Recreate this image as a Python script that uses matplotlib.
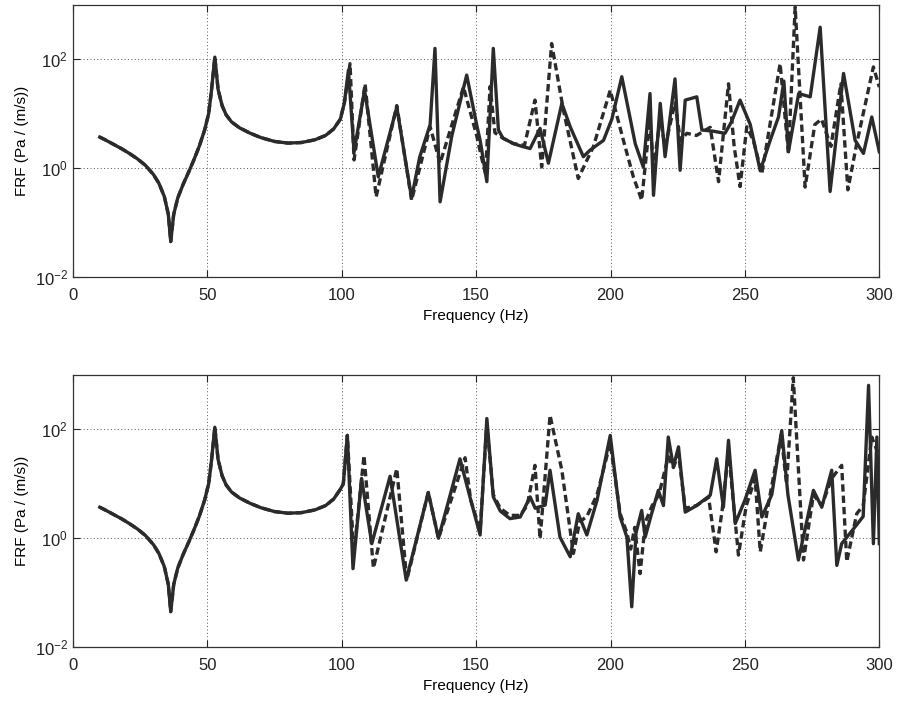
import numpy as np
import matplotlib
matplotlib.use('Agg')
import matplotlib.pyplot as plt

plt.rcParams['font.family'] = ['Liberation Sans', 'DejaVu Sans']

# below 100 Hz both models agree (log10 of FRF)
LOW_F = [10, 12, 15, 18, 21, 24, 27, 30, 32, 34, 35.5, 36.4, 37.5, 39, 41, 43, 45, 47,
         49, 50.5, 51.5, 52.8, 54, 55.5, 57, 59, 62, 66, 70, 75, 80, 85, 90, 94, 97, 99.5]
LOW_V = [0.57, 0.52, 0.44, 0.36, 0.27, 0.17, 0.05, -0.12, -0.28, -0.52, -0.85, -1.35,
         -0.85, -0.55, -0.30, -0.08, 0.15, 0.40, 0.70, 1.00, 1.40, 2.04, 1.45, 1.15, 0.98,
         0.85, 0.74, 0.64, 0.56, 0.49, 0.46, 0.47, 0.52, 0.60, 0.72, 0.90]

# top figure, solid
TOP_SOLID_F = [101, 102.5, 104.6, 108.5, 113.6, 120.5, 126, 129, 132.9, 134.7, 136.6, 141,
               146.5, 150.2, 151.5, 154, 156.4, 158.3, 160, 163.9, 167, 170.1, 173.8, 176.9,
               181.9, 185, 189.9, 192.4, 197.4, 200.5, 204.2, 209.2, 212.2, 214.7, 216, 218.5,
               220.3, 224, 225.9, 227.8, 232.1, 234, 238, 242.6, 245, 248.2, 252, 255.7, 259.4,
               262.5, 264.5, 266.2, 270, 274.3, 278, 281.7, 286.7, 291, 294.1, 297.2, 300]
TOP_SOLID_V = [1.20, 1.80, 0.30, 1.43, -0.16, 1.12, -0.55, 0.20, 0.80, 2.20, -0.62, 0.60,
               1.71, 0.80, 0.51, -0.25, 2.20, 0.70, 0.55, 0.45, 0.40, 0.36, 0.73, 0.09,
               1.19, 0.76, 0.21, 0.33, 0.51, 0.90, 1.68, 0.45, 0.02, 1.37, -0.50, 1.19,
               0.21, 1.64, -0.04, 1.25, 1.31, 0.70, 0.68, 0.64, 0.85, 1.25, 0.80, -0.05, 0.51,
               0.94, 1.60, 0.30, 1.37, 1.31, 2.59, -0.43, 1.74, 0.51, 0.27, 0.94, 0.30]

# top figure, dashed
TOP_DASH_F = [101, 103.1, 104.6, 108.7, 112.8, 120.5, 126, 132.9, 136.6, 145.3, 150.2, 152,
              153.5, 155.2, 157, 160, 163.9, 168, 171.9, 174.4, 178.1, 182.5, 188, 193.6,
              199.9, 204.8, 208.5, 211.6, 214.7, 216, 218.5, 220.3, 224, 226, 228.4, 232,
              237.1, 240.2, 243.9, 246, 248.2, 250.7, 253.2, 256.3, 263.1, 266.2, 268.7,
              272.4, 276, 278.5, 282, 285.7, 288.3, 291.6, 297.8, 300]
TOP_DASH_V = [1.20, 1.92, 0.15, 1.55, -0.53, 1.15, -0.59, 0.76, 0.09, 1.49, 0.60, 0.20,
              -0.10, 1.50, 0.65, 0.55, 0.45, 0.42, 1.25, 0.02, 2.29, 1.06, -0.19, 0.39,
              1.43, 0.51, -0.16, -0.59, 0.90, 0.00, 0.90, 0.40, 1.20, 0.50, 0.64, 0.60,
              0.75, -0.25, 1.55, 0.40, -0.34, 0.76, 0.50, -0.10, 1.92, 0.27, 2.96,
              -0.35, 0.80, 0.90, 0.40, 1.55, -0.40, 0.45, 1.86, 1.49]

# bottom figure, solid
BOT_SOLID_F = [100.6, 102.1, 104.2, 107.4, 111.2, 118, 124, 132.2, 136, 144, 147.7, 151.5,
               154, 156.4, 159, 162.6, 166.4, 170.1, 172, 175.7, 177.5, 181.2, 185, 188,
               191.2, 195, 199.9, 203.6, 206.1, 207.9, 209.5, 211.6, 212.9, 215, 217.8,
               219.7, 221.5, 223.4, 225.3, 227.8, 232, 237.1, 239.5, 242, 243.9, 246.4, 250,
               253.8, 256.3, 260, 263.7, 266, 269.9, 275.5, 278.6, 282.3, 284.2, 286, 291,
               294, 296, 297.8, 299.1, 300]
BOT_SOLID_V = [1.00, 1.89, -0.56, 1.10, -0.10, 1.14, -0.77, 0.84, 0.00, 1.46, 0.76, 0.06,
               2.20, 0.76, 0.50, 0.36, 0.39, 0.76, 0.55, 0.61, 1.25, 0.02, -0.34, 0.45,
               0.06, 0.70, 1.89, 0.39, 0.02, -1.26, 0.10, 0.51, 0.02, 0.40, 0.88,
               0.60, 1.86, 1.31, 1.68, 0.48, 0.60, 0.79, 1.46, 0.57, 1.80, 0.27, 0.70,
               1.25, 0.39, 0.80, 1.98, 0.80, -0.40, 0.88, 0.57, 1.25, -0.50, -0.10, 0.21,
               0.40, 2.81, -0.10, 1.86, -0.10]

# bottom figure, dashed
BOT_DASH_F = [100.6, 102.1, 104.5, 108.3, 111.8, 120.5, 124.2, 132.2, 136, 145.9, 148, 151.5,
              154, 156.4, 159, 162.6, 166.4, 169, 171.9, 173.8, 177.5, 181.9, 186.2, 188.5,
              191.2, 195, 199.9, 203.6, 206.1, 207.5, 209, 211, 213, 215.5, 218, 221.5,
              223.4, 225.3, 227.8, 232, 236.5, 239.3, 241.5, 243.9, 247.6, 250.5, 253.8,
              255.7, 259, 263.5, 265.5, 268, 271.8, 275.5, 278.6, 282.3, 286, 287.9, 291.6,
              294, 297.2, 300]
BOT_DASH_V = [1.00, 1.89, -0.30, 1.52, -0.55, 1.28, -0.77, 0.84, 0.00, 1.48, 0.70, 0.15,
              2.10, 0.80, 0.55, 0.42, 0.42, 0.60, 1.34, -0.01, 2.26, 1.25, -0.28, 0.30,
              0.40, 0.80, 1.75, 0.45, 0.10, -0.20, 0.20, -0.65, 0.30, 0.60, 0.80, 1.50,
              1.30, 1.55, 0.55, 0.60, 0.75, -0.25, 0.50, 1.60, -0.31, 0.60, 1.10,
              -0.25, 0.70, 1.90, 1.00, 2.95, -0.40, 0.80, 0.60, 1.10, 1.34, -0.43, 0.45,
              0.60, 1.86, 1.50]

LINE_COLOR = '#2b2b2b'


def draw_panel(ax, solid_f, solid_v, dash_f, dash_v):
    fs = np.array(LOW_F + solid_f)
    vs = np.power(10.0, np.array(LOW_V + solid_v))
    fd = np.array(LOW_F + dash_f)
    vd = np.power(10.0, np.array(LOW_V + dash_v))
    ax.plot(fd, vd, color=LINE_COLOR, lw=2.4, dashes=(2.2, 1.2))
    ax.plot(fs, vs, color=LINE_COLOR, lw=2.4)
    ax.set_yscale('log')
    ax.set_xlim(0, 300)
    ax.set_ylim(1e-2, 1e3)
    ax.set_xticks([0, 50, 100, 150, 200, 250, 300])
    ax.set_yticks([1e-2, 1e0, 1e2])
    ax.yaxis.set_minor_locator(matplotlib.ticker.NullLocator())
    ax.tick_params(direction='in', length=5, width=0.8, top=True, right=True,
                   labelsize=12, colors='#222222')
    ax.tick_params(axis='x', pad=8)
    ax.grid(True, linestyle=(0, (1, 2.5)), color='#555555', linewidth=0.7)
    for sp in ax.spines.values():
        sp.set_color('#333333')
        sp.set_linewidth(0.9)
    ax.set_xlabel('Frequency (Hz)', fontsize=11, labelpad=4)
    ax.set_ylabel('FRF (Pa / (m/s))', fontsize=11, labelpad=4)


fig = plt.figure(figsize=(9, 7.01), dpi=100)
ax1 = fig.add_axes([0.081, 0.605, 0.896, 0.388])
ax2 = fig.add_axes([0.081, 0.077, 0.896, 0.388])

draw_panel(ax1, TOP_SOLID_F, TOP_SOLID_V, TOP_DASH_F, TOP_DASH_V)
draw_panel(ax2, BOT_SOLID_F, BOT_SOLID_V, BOT_DASH_F, BOT_DASH_V)

fig.savefig('out.png', dpi=100)
